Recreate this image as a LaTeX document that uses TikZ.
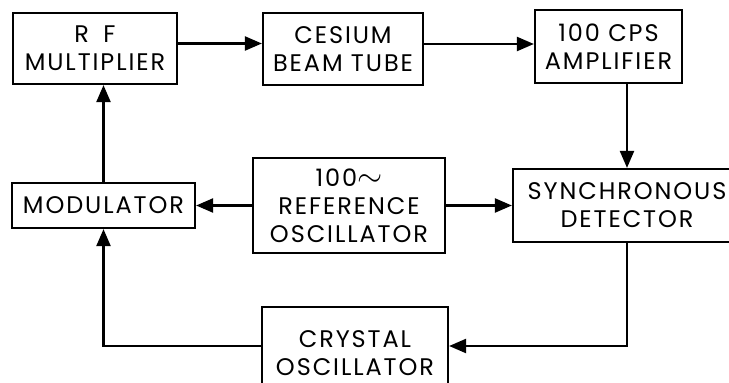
\documentclass[tikz,border=0pt]{standalone}
\usepackage{fontspec}
\setmainfont[LetterSpace=8]{Poppins}
\usetikzlibrary{arrows.meta}

\begin{document}
\begin{tikzpicture}[x=1pt,y=-1pt,>={Triangle[length=17pt,width=14pt]},line width=2.2pt,
  blk/.style={draw,align=center,inner sep=0pt,font=\fontsize{24}{28}\selectfont}]
\useasboundingbox (0,0) rectangle (729,383);
% top row
\node[blk,minimum width=164pt,minimum height=71pt] (rf) at (95,48.5) {R\hspace{0.6em}F\\MULTIPLIER};
\node[blk,minimum width=160pt,minimum height=72pt] (cesium) at (343,49) {CESIUM\\BEAM TUBE};
\node[blk,minimum width=147pt,minimum height=73pt] (amp) at (608.5,46.5) {100 CPS\\AMPLIFIER};
% middle row
\node[blk,minimum width=183pt,minimum height=45pt] (mod) at (103.5,205.5) {MODULATOR};
\node[blk,minimum width=192pt,minimum height=95pt] (ref) at (349,205.5) {100\scalebox{1.3}{$\sim$}\\REFERENCE\\OSCILLATOR};
\node[blk,minimum width=228pt,minimum height=73pt] (sync) at (627,205.5) {SYNCHRONOUS\\DETECTOR};
% bottom
\node[blk,minimum width=186pt,minimum height=92pt] (crystal) at (355,353) {CRYSTAL\\OSCILLATOR};
% connections
\draw[->] ([yshift=5pt]rf.east) -- ([yshift=5pt]rf.east -| cesium.west);
\draw[->] ([yshift=5pt]cesium.east) -- ([yshift=5pt]cesium.east -| amp.west);
\draw[->] (amp.south -| sync.north) -- (sync.north);
\draw[->] (mod.north) -- (mod.north |- rf.south);
\draw[->] (ref.west) -- (mod.east);
\draw[->] (ref.east) -- (sync.west);
\draw[->] (sync.south) |- ([yshift=7pt]crystal.east);
\draw[->] ([yshift=7pt]crystal.west) -| (mod.south);
\end{tikzpicture}
\end{document}
